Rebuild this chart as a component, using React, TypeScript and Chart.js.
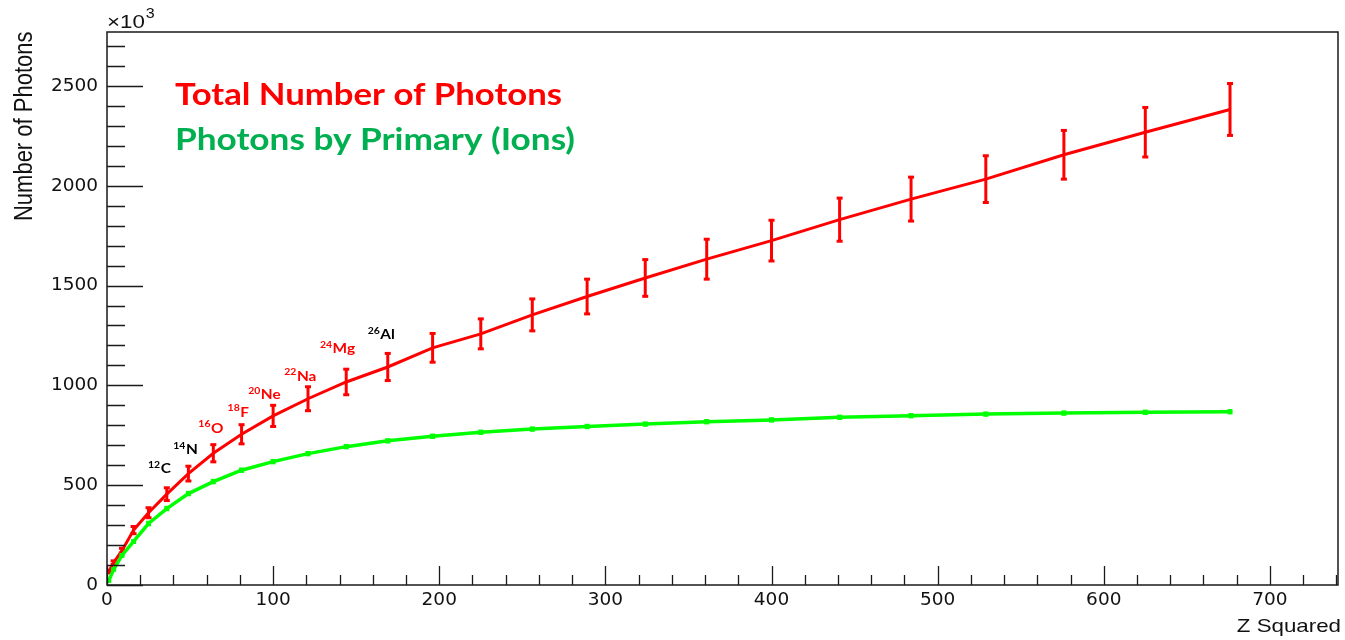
import React, { useEffect, useRef } from "react";
import { Chart, registerables } from "chart.js";

Chart.register(...registerables);

// ---- data ----
const zSquared = [1, 4, 9, 16, 25, 36, 49, 64, 81, 100, 121, 144, 169, 196, 225, 256, 289, 324, 361, 400, 441, 484, 529, 576, 625, 676];
const totalPhotons = [67, 112, 172, 275, 362, 455, 558, 660, 755, 847, 933, 1017, 1092, 1188, 1258, 1353, 1445, 1538, 1632, 1725, 1830, 1933, 2033, 2155, 2268, 2382];
const totalErrors = [6, 9, 12, 18, 25, 32, 37, 43, 48, 53, 60, 64, 68, 72, 75, 80, 87, 92, 100, 102, 108, 110, 117, 122, 124, 130];
const primaryPhotons = [20, 78, 148, 218, 308, 383, 458, 518, 575, 618, 658, 693, 722, 745, 765, 781, 794, 806, 818, 827, 840, 848, 856, 861, 865, 868];
const primaryErrors = [3, 4, 5, 5, 6, 6, 6, 6, 6, 6, 6, 6, 6, 6, 6, 6, 6, 6, 6, 6, 6, 6, 6, 6, 6, 6];

const xMajorTicks = [0, 100, 200, 300, 400, 500, 600, 700];
const xMinorTicks = [20, 40, 60, 80, 120, 140, 160, 180, 220, 240, 260, 280, 320, 340, 360, 380, 420, 440, 460, 480, 520, 540, 560, 580, 620, 640, 660, 680, 720, 740];
const yMajorTicks = [0, 500, 1000, 1500, 2000, 2500];
const yMinorTicks = [100, 200, 300, 400, 600, 700, 800, 900, 1100, 1200, 1300, 1400, 1600, 1700, 1800, 1900, 2100, 2200, 2300, 2400, 2600, 2700];

const isotopeMass = ["12", "14", "16", "18", "20", "22", "24", "26"];
const isotopeSymbol = ["C", "N", "O", "F", "Ne", "Na", "Mg", "Al"];
const isotopeLabelX = [24.7, 39.9, 55.0, 72.6, 85.0, 106.7, 128.2, 156.9];
const isotopeLabelY = [560, 656, 763, 843, 930, 1024, 1161, 1232];
const isotopeColors = ["#000000", "#000000", "#ff0000", "#ff0000", "#ff0000", "#ff0000", "#ff0000", "#000000"];

const seriesLabels = ["Photons by Primary (Ions)", "Total Number of Photons"];

const X_MAX = 741;
const Y_MAX = 2770;

function stretchedText(
  ctx: CanvasRenderingContext2D,
  text: string,
  x: number,
  y: number,
  font: string,
  color: string,
  align: CanvasTextAlign,
  sx: number
) {
  ctx.save();
  ctx.font = font;
  ctx.fillStyle = color;
  ctx.textAlign = align;
  ctx.textBaseline = "alphabetic";
  ctx.translate(x, y);
  ctx.scale(sx, 1);
  ctx.fillText(text, 0, 0);
  ctx.restore();
}

const rootStylePlugin = {
  id: "rootStyle",
  afterDatasetDraw(chart: any, args: any) {
    const ds = chart.data.datasets[args.index];
    const errs: number[] | undefined = ds.errorBars;
    if (!errs) return;
    const xs = chart.scales.x;
    const ys = chart.scales.y;
    const ctx: CanvasRenderingContext2D = chart.ctx;
    const area = chart.chartArea;
    ctx.save();
    ctx.beginPath();
    ctx.rect(area.left, area.top, area.right - area.left, area.bottom - area.top);
    ctx.clip();
    ctx.strokeStyle = ds.borderColor;
    ctx.fillStyle = ds.borderColor;
    ctx.lineWidth = ds.errorWidth || 3;
    const cap = ds.capHalf || 3;
    ds.data.forEach((p: any, i: number) => {
      const px = xs.getPixelForValue(p.x);
      const top = ys.getPixelForValue(p.y + errs[i]);
      const bot = ys.getPixelForValue(p.y - errs[i]);
      ctx.beginPath();
      ctx.moveTo(px, top);
      ctx.lineTo(px, bot);
      ctx.stroke();
      ctx.fillRect(px - cap, top - 1.5, cap * 2, 3);
      ctx.fillRect(px - cap, bot - 1.5, cap * 2, 3);
    });
    ctx.restore();
  },
  afterDraw(chart: any) {
    const ctx: CanvasRenderingContext2D = chart.ctx;
    const { left, right, top, bottom } = chart.chartArea;
    const xs = chart.scales.x;
    const ys = chart.scales.y;

    // frame
    ctx.save();
    ctx.strokeStyle = "#1a1a1a";
    ctx.lineWidth = 1.5;
    ctx.strokeRect(left, top, right - left, bottom - top);

    // ticks (inside the frame, ROOT style)
    ctx.lineWidth = 1.3;
    ctx.beginPath();
    yMajorTicks.forEach((v) => {
      const py = Math.round(ys.getPixelForValue(v)) + 0.5;
      ctx.moveTo(left, py);
      ctx.lineTo(left + 36, py);
    });
    yMinorTicks.forEach((v) => {
      const py = Math.round(ys.getPixelForValue(v)) + 0.5;
      ctx.moveTo(left, py);
      ctx.lineTo(left + 18, py);
    });
    xMajorTicks.forEach((v) => {
      const px = Math.round(xs.getPixelForValue(v)) + 0.5;
      ctx.moveTo(px, bottom);
      ctx.lineTo(px, bottom - 19);
    });
    xMinorTicks.forEach((v) => {
      const px = Math.round(xs.getPixelForValue(v)) + 0.5;
      ctx.moveTo(px, bottom);
      ctx.lineTo(px, bottom - 10);
    });
    ctx.stroke();
    ctx.restore();

    const axisFont = "18.6px 'Liberation Sans', Arial, sans-serif";
    // x title
    stretchedText(ctx, "Z Squared", right + 3, 632, axisFont, "#111", "right", 1.2);
    // exponent
    stretchedText(ctx, "\u00d710", left, 28, axisFont, "#111", "left", 1.2);
    ctx.save();
    ctx.font = axisFont;
    const w10 = ctx.measureText("\u00d710").width * 1.2;
    ctx.restore();
    stretchedText(ctx, "3", left + w10 + 1, 18, "14px 'Liberation Sans', Arial, sans-serif", "#111", "left", 1.15);

    // y title (rotated, right-aligned to the top)
    ctx.save();
    ctx.font = "22px 'Liberation Sans', Arial, sans-serif";
    ctx.fillStyle = "#111";
    ctx.textAlign = "right";
    ctx.textBaseline = "alphabetic";
    ctx.translate(32.3, 31.5);
    ctx.scale(1.2, 1);
    ctx.rotate(-Math.PI / 2);
    ctx.fillText("Number of Photons", 0, 0);
    ctx.restore();

    // legend text (no boxes)
    const legendFont = "bold 30px Lato, 'Open Sans', sans-serif";
    const legendColors = ["#00b050", "#ff0000"];
    const legendBaselines = [150, 105];
    const legendWidths = [400, 387];
    [1, 0].forEach((i) => {
      ctx.save();
      ctx.font = legendFont;
      const m = ctx.measureText(seriesLabels[i]).width;
      ctx.restore();
      stretchedText(ctx, seriesLabels[i], 175, legendBaselines[i], legendFont, legendColors[i], "left", legendWidths[i] / m);
    });

    // isotope annotations
    const supFont = "bold 9.5px Lato, 'Open Sans', sans-serif";
    const mainFont = "bold 14px Lato, 'Open Sans', sans-serif";
    const sx = 1.1;
    isotopeMass.forEach((mass, i) => {
      const px = xs.getPixelForValue(isotopeLabelX[i]);
      const py = ys.getPixelForValue(isotopeLabelY[i]);
      ctx.save();
      ctx.font = supFont;
      const sw = ctx.measureText(mass).width * sx;
      ctx.restore();
      stretchedText(ctx, mass, px, py - 5.5, supFont, isotopeColors[i], "left", sx);
      stretchedText(ctx, isotopeSymbol[i], px + sw + 0.5, py, mainFont, isotopeColors[i], "left", sx);
    });
  },
};

export default function App() {
  const canvasRef = useRef<HTMLCanvasElement | null>(null);

  useEffect(() => {
    if (!canvasRef.current) return;
    const chart = new Chart(canvasRef.current, {
      type: "line",
      data: {
        datasets: [
          {
            label: seriesLabels[0],
            data: zSquared.map((x, i) => ({ x, y: primaryPhotons[i] })),
            borderColor: "#00ff00",
            backgroundColor: "#00ff00",
            borderWidth: 3.5,
            pointRadius: 0,
            tension: 0,
            errorBars: primaryErrors,
            errorWidth: 2.5,
            capHalf: 2.5,
          } as any,
          {
            label: seriesLabels[1],
            data: zSquared.map((x, i) => ({ x, y: totalPhotons[i] })),
            borderColor: "#ff0000",
            backgroundColor: "#ff0000",
            borderWidth: 3,
            pointRadius: 0,
            tension: 0,
            errorBars: totalErrors,
            errorWidth: 3,
            capHalf: 3,
          } as any,
        ],
      },
      options: {
        animation: false,
        responsive: false,
        maintainAspectRatio: false,
        layout: { padding: { left: 0, top: 32, right: 7, bottom: 0 } },
        plugins: {
          legend: { display: false },
          tooltip: { enabled: false },
          title: { display: false },
        },
        scales: {
          x: {
            type: "linear",
            min: 0,
            max: X_MAX,
            grid: { display: false, drawTicks: false },
            border: { display: false },
            ticks: {
              color: "#111",
              font: { family: "'DejaVu Sans', sans-serif", size: 18.5 },
              padding: 4,
              maxRotation: 0,
              autoSkip: false,
              callback: (v: any) => String(v),
            },
            afterBuildTicks: (s: any) => {
              s.ticks = xMajorTicks.map((v) => ({ value: v }));
            },
            afterFit: (s: any) => {
              s.height = 55;
            },
          },
          y: {
            type: "linear",
            min: 0,
            max: Y_MAX,
            grid: { display: false, drawTicks: false },
            border: { display: false },
            ticks: {
              color: "#111",
              font: { family: "'DejaVu Sans', sans-serif", size: 18.5 },
              padding: 9,
              autoSkip: false,
              callback: (v: any) => String(v),
            },
            afterBuildTicks: (s: any) => {
              s.ticks = yMajorTicks.map((v) => ({ value: v }));
            },
            afterFit: (s: any) => {
              s.width = 107;
            },
          },
        },
      },
      plugins: [rootStylePlugin],
    });
    return () => chart.destroy();
  }, []);

  return (
    <div style={{ position: "absolute", left: 0, top: 0, width: 1345, height: 640, background: "#fff" }}>
      <canvas ref={canvasRef} width={1345} height={640} style={{ display: "block" }} />
    </div>
  );
}
